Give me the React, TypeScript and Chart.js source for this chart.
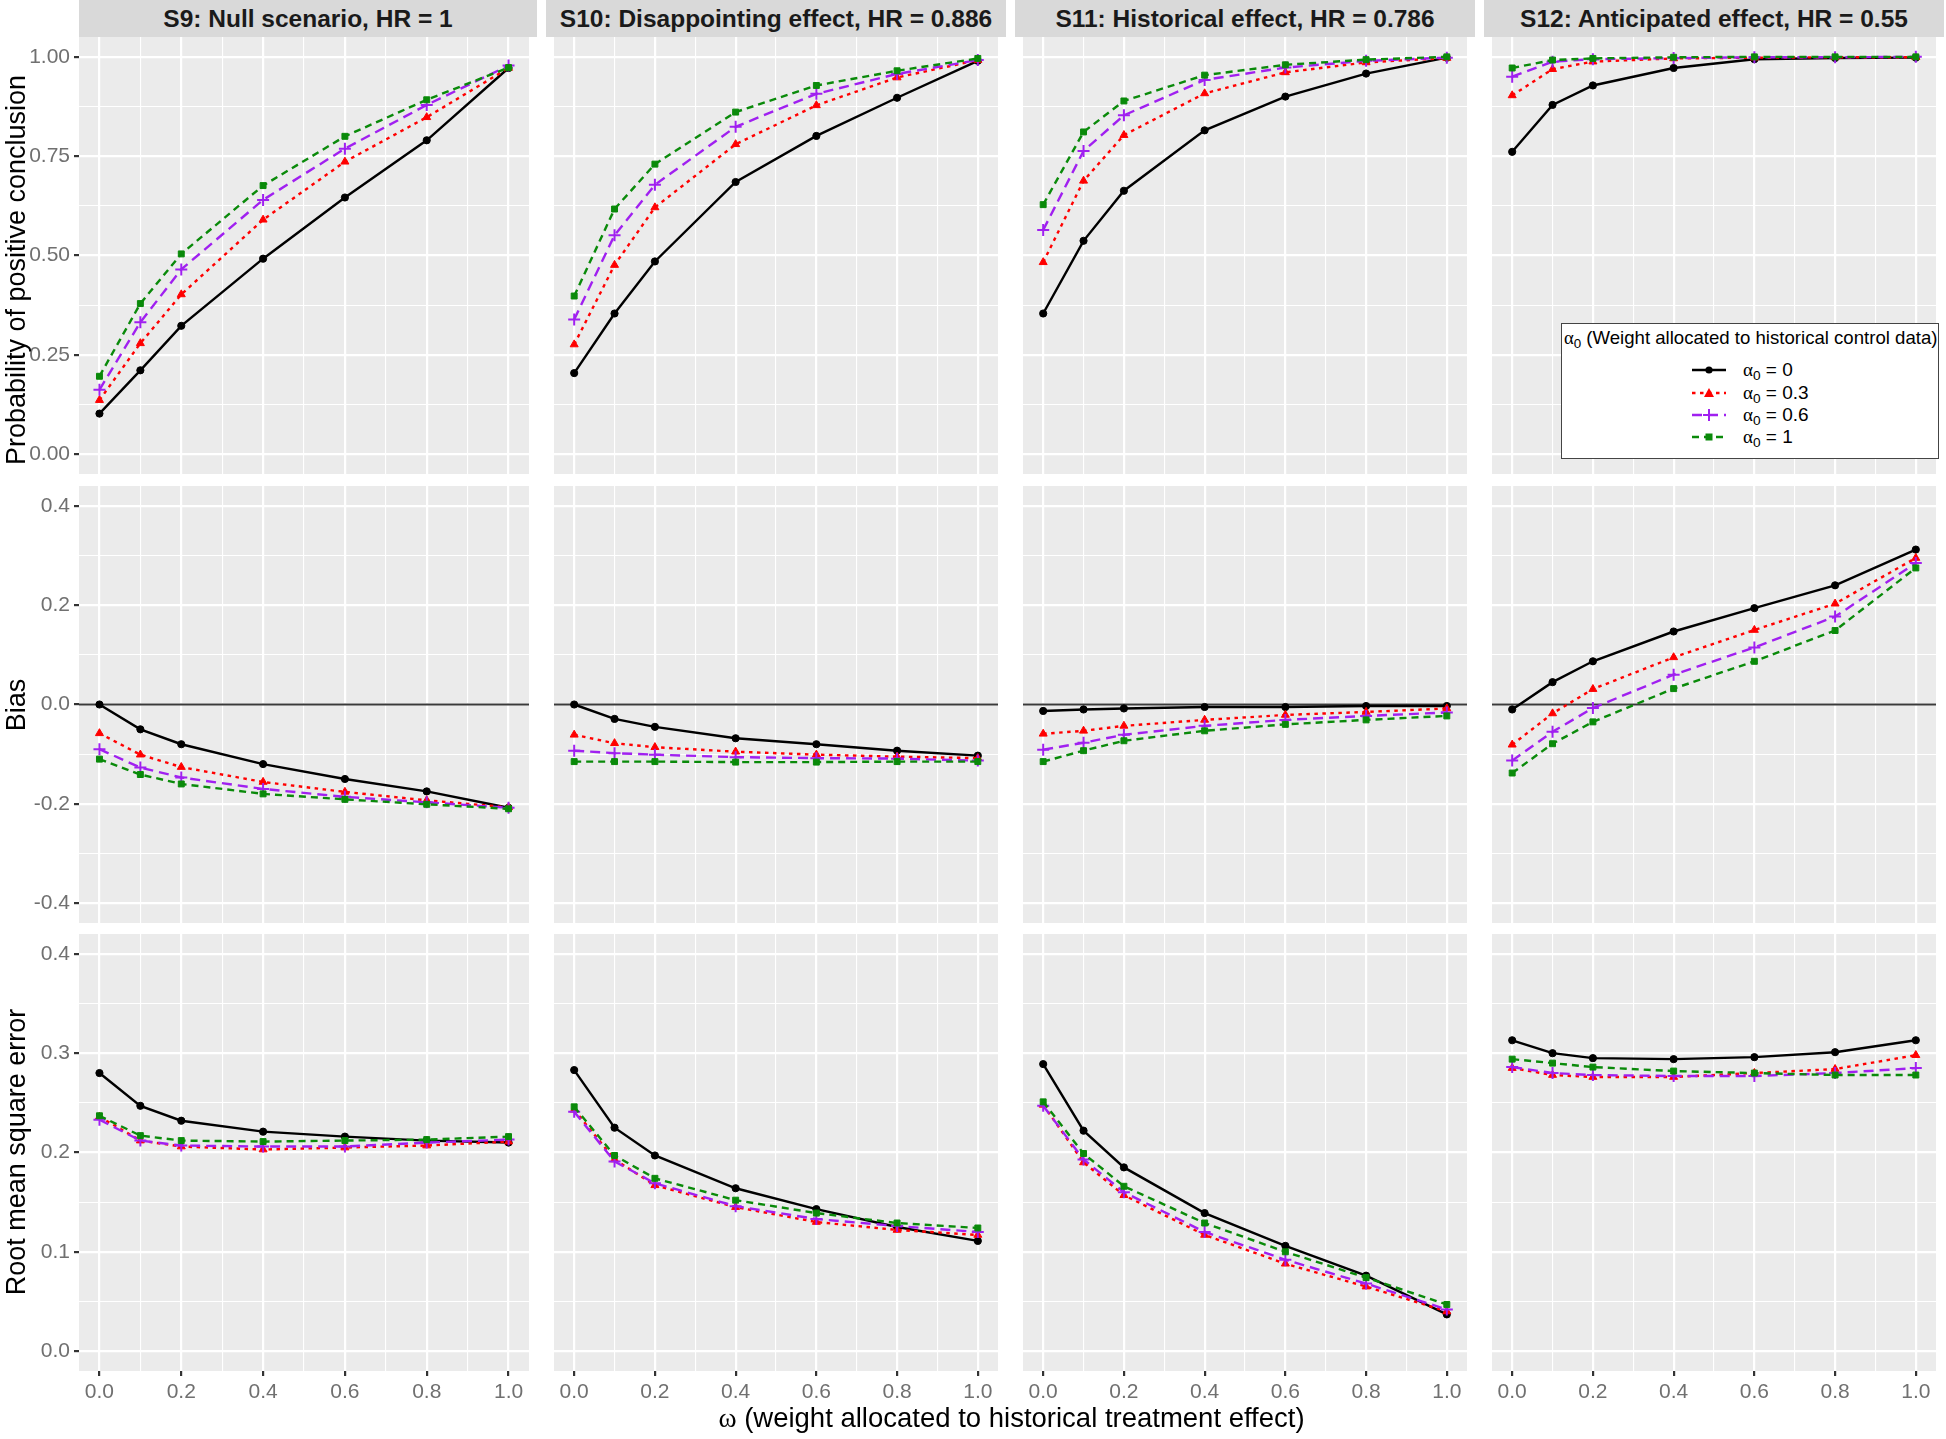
import React, { useEffect, useRef } from 'react';
import { Chart, registerables } from 'chart.js';

Chart.register(...registerables);

const FONT = "'Liberation Sans', Arial, Helvetica, sans-serif";
const GREEK_FONT = "'Liberation Serif', 'DejaVu Serif', serif";

// ---------------- data ----------------
const omega = [0, 0.1, 0.2, 0.4, 0.6, 0.8, 1.0];
const alpha0Levels = ['0', '0.3', '0.6', '1'];
const scenarioTitles = [
  'S9: Null scenario, HR = 1',
  'S10: Disappointing effect, HR = 0.886',
  'S11: Historical effect, HR = 0.786',
  'S12: Anticipated effect, HR = 0.55',
];
const rowTitles = ['Probability of positive conclusion', 'Bias', 'Root mean square error'];

// Probability of positive conclusion (rows: alpha0 = 0, 0.3, 0.6, 1)
const probS9 = [
  [0.102, 0.211, 0.323, 0.492, 0.646, 0.79, 0.972],
  [0.136, 0.279, 0.402, 0.59, 0.736, 0.848, 0.972],
  [0.162, 0.332, 0.465, 0.64, 0.769, 0.879, 0.978],
  [0.196, 0.379, 0.504, 0.676, 0.8, 0.892, 0.973],
];
const probS10 = [
  [0.204, 0.354, 0.485, 0.685, 0.801, 0.897, 0.99],
  [0.276, 0.476, 0.621, 0.78, 0.878, 0.948, 0.992],
  [0.339, 0.551, 0.678, 0.824, 0.907, 0.957, 0.992],
  [0.398, 0.617, 0.73, 0.861, 0.928, 0.965, 0.996],
];
const probS11 = [
  [0.354, 0.537, 0.663, 0.815, 0.9, 0.958, 0.998],
  [0.483, 0.688, 0.803, 0.908, 0.961, 0.986, 0.997],
  [0.564, 0.763, 0.853, 0.942, 0.973, 0.99, 0.998],
  [0.628, 0.811, 0.889, 0.954, 0.98, 0.993, 1.0],
];
const probS12 = [
  [0.761, 0.879, 0.928, 0.972, 0.994, 0.997, 0.998],
  [0.903, 0.969, 0.988, 0.996, 0.998, 0.999, 0.999],
  [0.95, 0.988, 0.994, 0.997, 0.999, 0.999, 1.0],
  [0.972, 0.992, 0.996, 0.999, 1.0, 1.0, 1.0],
];

// Bias
const biasS9 = [
  [0.0, -0.05, -0.08, -0.12, -0.15, -0.175, -0.208],
  [-0.058, -0.101, -0.126, -0.156, -0.176, -0.193, -0.207],
  [-0.09, -0.127, -0.147, -0.17, -0.186, -0.197, -0.208],
  [-0.11, -0.141, -0.16, -0.18, -0.191, -0.201, -0.21],
];
const biasS10 = [
  [0.0, -0.029, -0.045, -0.068, -0.08, -0.093, -0.103],
  [-0.061, -0.078, -0.086, -0.095, -0.101, -0.105, -0.108],
  [-0.093, -0.098, -0.101, -0.106, -0.108, -0.109, -0.113],
  [-0.115, -0.115, -0.115, -0.116, -0.116, -0.115, -0.115],
];
const biasS11 = [
  [-0.013, -0.01, -0.008, -0.005, -0.005, -0.003, -0.003],
  [-0.059, -0.053, -0.043, -0.031, -0.021, -0.015, -0.008],
  [-0.091, -0.077, -0.061, -0.043, -0.031, -0.023, -0.016],
  [-0.115, -0.093, -0.073, -0.053, -0.04, -0.031, -0.023],
];
const biasS12 = [
  [-0.01, 0.045, 0.087, 0.147, 0.194, 0.24, 0.312],
  [-0.081, -0.018, 0.031, 0.095, 0.15, 0.203, 0.295],
  [-0.113, -0.055, -0.007, 0.06, 0.115, 0.177, 0.285],
  [-0.138, -0.079, -0.035, 0.032, 0.087, 0.149, 0.275],
];

// Root mean square error
const rmseS9 = [
  [0.28, 0.247, 0.232, 0.221, 0.216, 0.212, 0.21],
  [0.236, 0.212, 0.206, 0.203, 0.205, 0.207, 0.211],
  [0.233, 0.212, 0.207, 0.206, 0.206, 0.21, 0.213],
  [0.237, 0.217, 0.212, 0.211, 0.212, 0.213, 0.216],
];
const rmseS10 = [
  [0.283, 0.225, 0.197, 0.164, 0.143, 0.125, 0.111],
  [0.243, 0.193, 0.167, 0.145, 0.13, 0.122, 0.117],
  [0.241, 0.191, 0.169, 0.146, 0.133, 0.126, 0.12],
  [0.246, 0.197, 0.174, 0.152, 0.139, 0.129, 0.124],
];
const rmseS11 = [
  [0.289, 0.222, 0.185, 0.139, 0.106, 0.076, 0.037],
  [0.248, 0.19, 0.157, 0.117, 0.088, 0.065, 0.04],
  [0.247, 0.193, 0.16, 0.12, 0.092, 0.068, 0.042],
  [0.251, 0.199, 0.166, 0.129, 0.1, 0.074, 0.047],
];
const rmseS12 = [
  [0.313, 0.3, 0.295, 0.294, 0.296, 0.301, 0.313],
  [0.285, 0.278, 0.276, 0.276, 0.28, 0.284, 0.298],
  [0.286, 0.28, 0.278, 0.277, 0.277, 0.28, 0.285],
  [0.294, 0.29, 0.286, 0.282, 0.28, 0.278, 0.278],
];

// ticks
const xMajorTicks = [0, 0.2, 0.4, 0.6, 0.8, 1.0];
const xMinorTicks = [0.1, 0.3, 0.5, 0.7, 0.9];
const xTickLabels = ['0.0', '0.2', '0.4', '0.6', '0.8', '1.0'];
const xLimits = [-0.05, 1.05];

const probMajorTicks = [0, 0.25, 0.5, 0.75, 1];
const probMinorTicks = [0.125, 0.375, 0.625, 0.875];
const probTickLabels = ['0.00', '0.25', '0.50', '0.75', '1.00'];
const probLimits = [-0.05, 1.05];

const biasMajorTicks = [-0.4, -0.2, 0, 0.2, 0.4];
const biasMinorTicks = [-0.3, -0.1, 0.1, 0.3];
const biasTickLabels = ['-0.4', '-0.2', '0.0', '0.2', '0.4'];
const biasLimits = [-0.44, 0.44];
const biasReference = 0;

const rmseMajorTicks = [0, 0.1, 0.2, 0.3, 0.4];
const rmseMinorTicks = [0.05, 0.15, 0.25, 0.35];
const rmseTickLabels = ['0.0', '0.1', '0.2', '0.3', '0.4'];
const rmseLimits = [-0.02, 0.42];

// ---------------- layout / styles ----------------
const COL_LEFT = [79, 546, 1015, 1484];
const COL_W = [458, 460, 460, 460];
const ROW_TOP = [37, 486, 934];
const PANEL_H = 437;
const STRIP_H = 37;
const X_AXIS_H = 45;
const M = 22;
const Y_TITLE_CENTER = [270, 705, 1152];

const seriesStyles = [
  { color: '#000000', dash: [] as number[], point: 'circle', radius: 3.6, width: 2.4, pbw: 1 },
  { color: '#FF0000', dash: [3.5, 4.5], point: 'triangle', radius: 4.6, width: 2.4, pbw: 1 },
  { color: '#A020F0', dash: [10, 6], point: 'cross', radius: 6, width: 2.4, pbw: 2 },
  { color: '#0A8A0A', dash: [7, 5], point: 'rect', radius: 4.2, width: 2.4, pbw: 1 },
];

const isIn = (arr: number[], v: number) => arr.some((m) => Math.abs(m - v) < 1e-9);
const idxIn = (arr: number[], v: number) => arr.findIndex((m) => Math.abs(m - v) < 1e-9);

const panelBg = {
  id: 'panelBg',
  beforeDraw(chart: any) {
    const { ctx, chartArea: a } = chart;
    ctx.save();
    ctx.fillStyle = '#EBEBEB';
    ctx.fillRect(a.left, a.top, a.right - a.left, a.bottom - a.top);
    ctx.restore();
  },
};

const refLine = {
  id: 'refLine',
  beforeDatasetsDraw(chart: any, _args: any, opts: any) {
    if (!opts || !opts.show) return;
    const { ctx, chartArea: a } = chart;
    const y = chart.scales.y.getPixelForValue(opts.value);
    ctx.save();
    ctx.strokeStyle = '#3a3a3a';
    ctx.lineWidth = 1.8;
    ctx.beginPath();
    ctx.moveTo(a.left, y);
    ctx.lineTo(a.right, y);
    ctx.stroke();
    ctx.restore();
  },
};

type PanelProps = {
  row: number;
  col: number;
  series: number[][];
  major: number[];
  minor: number[];
  labels: string[];
  limits: number[];
  zero?: boolean;
};

function Panel({ row, col, series, major, minor, labels, limits, zero }: PanelProps) {
  const ref = useRef<HTMLCanvasElement>(null);
  const isLeft = col === 0;
  const isBottom = row === 2;
  const left = isLeft ? 0 : COL_LEFT[col];
  const width = COL_W[col] + (isLeft ? COL_LEFT[0] : 0);
  const top = ROW_TOP[row] - M;
  const height = PANEL_H + 2 * M + (isBottom ? X_AXIS_H : 0);

  useEffect(() => {
    const canvas = ref.current;
    if (!canvas) return;
    const datasets = series.map((vals, i) => {
      const s = seriesStyles[i];
      return {
        label: 'α0 = ' + alpha0Levels[i],
        data: omega.map((x, j) => ({ x, y: vals[j] })),
        borderColor: s.color,
        backgroundColor: s.color,
        borderWidth: s.width,
        borderDash: s.dash,
        pointStyle: s.point as any,
        pointRadius: s.radius,
        pointBackgroundColor: s.color,
        pointBorderColor: s.color,
        pointBorderWidth: s.pbw,
        tension: 0,
        fill: false,
        order: 4 - i,
      };
    });
    const xTicks = [...xMajorTicks, ...xMinorTicks].sort((a, b) => a - b);
    const yTicks = [...major, ...minor].sort((a, b) => a - b);

    const chart = new Chart(canvas, {
      type: 'line',
      data: { datasets: datasets as any },
      options: {
        animation: false,
        responsive: false,
        maintainAspectRatio: false,
        devicePixelRatio: 1,
        layout: { padding: { top: M, bottom: M, left: 0, right: 0 } },
        plugins: {
          legend: { display: false },
          tooltip: { enabled: false },
          title: { display: false },
          refLine: { show: !!zero, value: biasReference },
        } as any,
        scales: {
          x: {
            type: 'linear',
            position: 'bottom',
            min: xLimits[0],
            max: xLimits[1],
            afterBuildTicks: (s: any) => {
              s.ticks = xTicks.map((v) => ({ value: v }));
            },
            afterFit: (s: any) => {
              s.height = isBottom ? X_AXIS_H : 0;
            },
            border: { display: false },
            grid: {
              color: '#FFFFFF',
              lineWidth: (c: any) => (c.tick && isIn(xMajorTicks, c.tick.value) ? 2.2 : 1.1),
              drawTicks: isBottom,
              tickLength: 5,
              tickColor: (c: any) => (c.tick && isIn(xMajorTicks, c.tick.value) ? '#333333' : 'rgba(0,0,0,0)'),
            },
            ticks: {
              display: isBottom,
              autoSkip: false,
              maxRotation: 0,
              minRotation: 0,
              padding: 4,
              color: '#707070',
              font: { family: FONT, size: 21 },
              callback: (v: any) => {
                const k = idxIn(xMajorTicks, Number(v));
                return k >= 0 ? xTickLabels[k] : '';
              },
            },
          },
          y: {
            type: 'linear',
            position: 'left',
            min: limits[0],
            max: limits[1],
            afterBuildTicks: (s: any) => {
              s.ticks = yTicks.map((v) => ({ value: v }));
            },
            afterFit: (s: any) => {
              s.width = isLeft ? COL_LEFT[0] : 0;
            },
            border: { display: false },
            grid: {
              color: '#FFFFFF',
              lineWidth: (c: any) => (c.tick && isIn(major, c.tick.value) ? 2.2 : 1.1),
              drawTicks: isLeft,
              tickLength: 5,
              tickColor: (c: any) => (c.tick && isIn(major, c.tick.value) ? '#333333' : 'rgba(0,0,0,0)'),
            },
            ticks: {
              display: isLeft,
              autoSkip: false,
              padding: 4,
              color: '#707070',
              font: { family: FONT, size: 21 },
              callback: (v: any) => {
                const k = idxIn(major, Number(v));
                return k >= 0 ? labels[k] : '';
              },
            },
          },
        },
      } as any,
      plugins: [panelBg, refLine],
    });
    return () => chart.destroy();
  }, []);

  return (
    <canvas
      ref={ref}
      width={width}
      height={height}
      style={{ position: 'absolute', left, top, width, height, display: 'block' }}
    />
  );
}

function LegendKey({ i }: { i: number }) {
  const s = seriesStyles[i];
  const w = 34;
  const h = 18;
  const cx = w / 2;
  const cy = h / 2;
  let marker: any = null;
  if (s.point === 'circle') marker = <circle cx={cx} cy={cy} r={3.6} fill={s.color} />;
  else if (s.point === 'triangle')
    marker = <polygon points={`${cx},${cy - 5} ${cx - 5},${cy + 4} ${cx + 5},${cy + 4}`} fill={s.color} />;
  else if (s.point === 'cross')
    marker = (
      <g stroke={s.color} strokeWidth={2}>
        <line x1={cx - 6} y1={cy} x2={cx + 6} y2={cy} />
        <line x1={cx} y1={cy - 6} x2={cx} y2={cy + 6} />
      </g>
    );
  else marker = <rect x={cx - 3.5} y={cy - 3.5} width={7} height={7} fill={s.color} />;
  return (
    <svg width={w} height={h} style={{ display: 'block' }}>
      <line
        x1={0}
        y1={cy}
        x2={w}
        y2={cy}
        stroke={s.color}
        strokeWidth={2.4}
        strokeDasharray={s.dash.length ? s.dash.join(' ') : undefined}
      />
      {marker}
    </svg>
  );
}

function Alpha0() {
  return (
    <span>
      <span style={{ fontFamily: GREEK_FONT }}>α</span>
      <span style={{ fontSize: '0.72em', position: 'relative', top: '0.3em' }}>0</span>
    </span>
  );
}

function Legend() {
  const itemTops = [46, 69, 91, 113];
  return (
    <div
      style={{
        position: 'absolute',
        left: 1561,
        top: 323,
        width: 378,
        height: 136,
        boxSizing: 'border-box',
        border: '1.5px solid #444',
        background: '#FFFFFF',
        fontFamily: FONT,
        color: '#000',
      }}
    >
      <div style={{ position: 'absolute', left: 2, top: 3, fontSize: 18.6, whiteSpace: 'nowrap', lineHeight: '22px' }}>
        <Alpha0 /> (Weight allocated to historical control data)
      </div>
      {alpha0Levels.map((lv, i) => (
        <div key={lv} style={{ position: 'absolute', left: 130, top: itemTops[i] - 11, height: 22, display: 'flex', alignItems: 'center' }}>
          <LegendKey i={i} />
          <span style={{ marginLeft: 17, fontSize: 19, whiteSpace: 'nowrap' }}>
            <Alpha0 /> = {lv}
          </span>
        </div>
      ))}
    </div>
  );
}

export default function App() {
  const probRow = [probS9, probS10, probS11, probS12];
  const biasRow = [biasS9, biasS10, biasS11, biasS12];
  const rmseRow = [rmseS9, rmseS10, rmseS11, rmseS12];
  return (
    <div
      style={{
        position: 'absolute',
        left: 0,
        top: 0,
        width: 1946,
        height: 1439,
        background: '#FFFFFF',
        overflow: 'hidden',
        fontFamily: FONT,
      }}
    >
      {scenarioTitles.map((t, c) => (
        <div
          key={t}
          style={{
            position: 'absolute',
            left: COL_LEFT[c],
            top: 0,
            width: COL_W[c],
            height: STRIP_H,
            background: '#D9D9D9',
            color: '#1A1A1A',
            fontWeight: 'bold',
            fontSize: 24.5,
            display: 'flex',
            alignItems: 'center',
            justifyContent: 'center',
            whiteSpace: 'nowrap',
          }}
        >
          {t}
        </div>
      ))}
      {probRow.map((s, c) => (
        <Panel key={'p' + c} row={0} col={c} series={s} major={probMajorTicks} minor={probMinorTicks} labels={probTickLabels} limits={probLimits} />
      ))}
      {biasRow.map((s, c) => (
        <Panel key={'b' + c} row={1} col={c} series={s} major={biasMajorTicks} minor={biasMinorTicks} labels={biasTickLabels} limits={biasLimits} zero />
      ))}
      {rmseRow.map((s, c) => (
        <Panel key={'r' + c} row={2} col={c} series={s} major={rmseMajorTicks} minor={rmseMinorTicks} labels={rmseTickLabels} limits={rmseLimits} />
      ))}
      {rowTitles.map((t, r) => (
        <div
          key={t}
          style={{
            position: 'absolute',
            left: 16,
            top: Y_TITLE_CENTER[r],
            transform: 'translate(-50%, -50%) rotate(-90deg)',
            fontSize: 27,
            lineHeight: '32px',
            color: '#000',
            whiteSpace: 'nowrap',
          }}
        >
          {t}
        </div>
      ))}
      <div
        style={{
          position: 'absolute',
          left: COL_LEFT[0],
          width: COL_LEFT[3] + COL_W[3] - COL_LEFT[0],
          top: 1401,
          height: 34,
          textAlign: 'center',
          fontSize: 27.5,
          lineHeight: '34px',
          color: '#000',
          whiteSpace: 'nowrap',
        }}
      >
        <span style={{ fontFamily: GREEK_FONT }}>ω</span> (weight allocated to historical treatment effect)
      </div>
      <Legend />
    </div>
  );
}
